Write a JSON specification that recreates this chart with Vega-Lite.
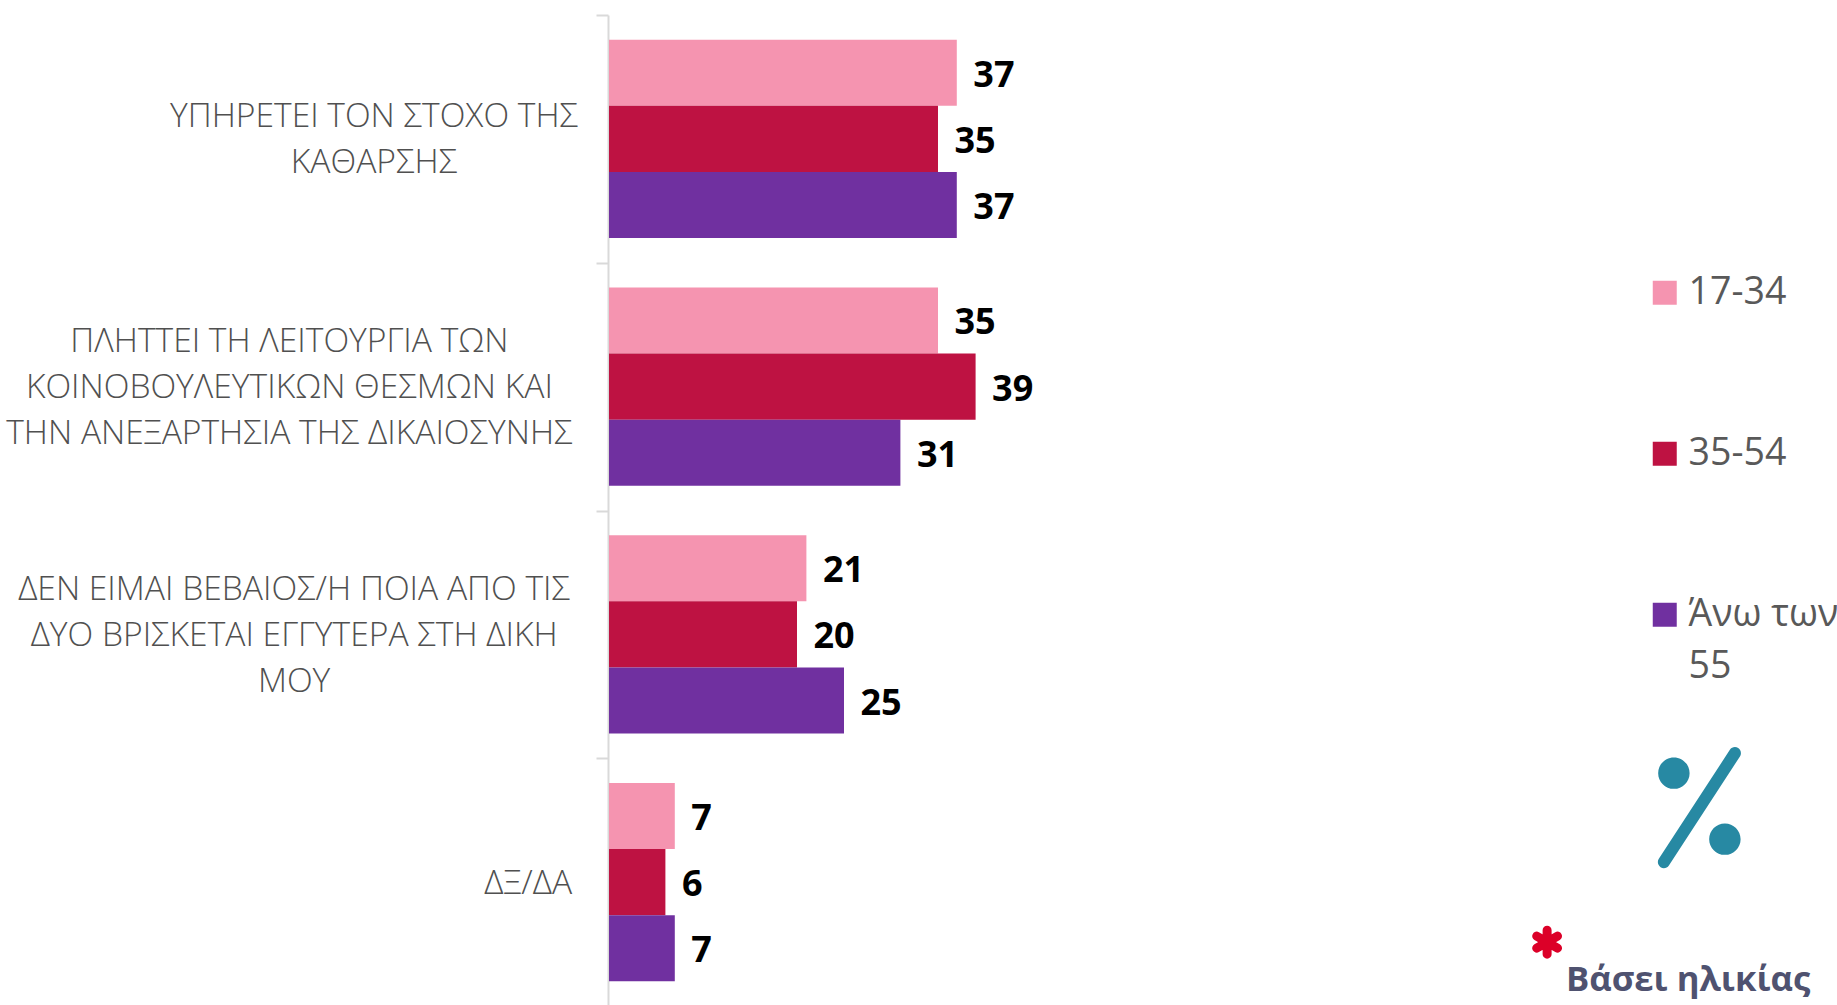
{
 "$schema":"https://vega.github.io/schema/vega-lite/v6.json",
 "autosize":{"type":"none"},
 "padding":{"left":609,"top":15,"right":0,"bottom":0},
 "width":1228,"height":991,
 "background":"white",
 "config":{"view":{"stroke":null},"font":"Open Sans"},
 "datasets":{"bars":[
  {"category":"ΥΠΗΡΕΤΕΙ ΤΟΝ ΣΤΟΧΟ ΤΗΣ ΚΑΘΑΡΣΗΣ","age":"17-34","value":37},
  {"category":"ΥΠΗΡΕΤΕΙ ΤΟΝ ΣΤΟΧΟ ΤΗΣ ΚΑΘΑΡΣΗΣ","age":"35-54","value":35},
  {"category":"ΥΠΗΡΕΤΕΙ ΤΟΝ ΣΤΟΧΟ ΤΗΣ ΚΑΘΑΡΣΗΣ","age":"Άνω των 55","value":37},
  {"category":"ΠΛΗΤΤΕΙ ΤΗ ΛΕΙΤΟΥΡΓΙΑ ΤΩΝ ΚΟΙΝΟΒΟΥΛΕΥΤΙΚΩΝ ΘΕΣΜΩΝ ΚΑΙ ΤΗΝ ΑΝΕΞΑΡΤΗΣΙΑ ΤΗΣ ΔΙΚΑΙΟΣΥΝΗΣ","age":"17-34","value":35},
  {"category":"ΠΛΗΤΤΕΙ ΤΗ ΛΕΙΤΟΥΡΓΙΑ ΤΩΝ ΚΟΙΝΟΒΟΥΛΕΥΤΙΚΩΝ ΘΕΣΜΩΝ ΚΑΙ ΤΗΝ ΑΝΕΞΑΡΤΗΣΙΑ ΤΗΣ ΔΙΚΑΙΟΣΥΝΗΣ","age":"35-54","value":39},
  {"category":"ΠΛΗΤΤΕΙ ΤΗ ΛΕΙΤΟΥΡΓΙΑ ΤΩΝ ΚΟΙΝΟΒΟΥΛΕΥΤΙΚΩΝ ΘΕΣΜΩΝ ΚΑΙ ΤΗΝ ΑΝΕΞΑΡΤΗΣΙΑ ΤΗΣ ΔΙΚΑΙΟΣΥΝΗΣ","age":"Άνω των 55","value":31},
  {"category":"ΔΕΝ ΕΙΜΑΙ ΒΕΒΑΙΟΣ/Η ΠΟΙΑ ΑΠΟ ΤΙΣ ΔΥΟ ΒΡΙΣΚΕΤΑΙ ΕΓΓΥΤΕΡΑ ΣΤΗ ΔΙΚΗ ΜΟΥ","age":"17-34","value":21},
  {"category":"ΔΕΝ ΕΙΜΑΙ ΒΕΒΑΙΟΣ/Η ΠΟΙΑ ΑΠΟ ΤΙΣ ΔΥΟ ΒΡΙΣΚΕΤΑΙ ΕΓΓΥΤΕΡΑ ΣΤΗ ΔΙΚΗ ΜΟΥ","age":"35-54","value":20},
  {"category":"ΔΕΝ ΕΙΜΑΙ ΒΕΒΑΙΟΣ/Η ΠΟΙΑ ΑΠΟ ΤΙΣ ΔΥΟ ΒΡΙΣΚΕΤΑΙ ΕΓΓΥΤΕΡΑ ΣΤΗ ΔΙΚΗ ΜΟΥ","age":"Άνω των 55","value":25},
  {"category":"ΔΞ/ΔΑ","age":"17-34","value":7},
  {"category":"ΔΞ/ΔΑ","age":"35-54","value":6},
  {"category":"ΔΞ/ΔΑ","age":"Άνω των 55","value":7}
 ]},
 "data":{"name":"bars"},
 "encoding":{
  "y":{"field":"category","type":"nominal","title":null,
   "scale":{"domain":["ΥΠΗΡΕΤΕΙ ΤΟΝ ΣΤΟΧΟ ΤΗΣ ΚΑΘΑΡΣΗΣ","ΠΛΗΤΤΕΙ ΤΗ ΛΕΙΤΟΥΡΓΙΑ ΤΩΝ ΚΟΙΝΟΒΟΥΛΕΥΤΙΚΩΝ ΘΕΣΜΩΝ ΚΑΙ ΤΗΝ ΑΝΕΞΑΡΤΗΣΙΑ ΤΗΣ ΔΙΚΑΙΟΣΥΝΗΣ","ΔΕΝ ΕΙΜΑΙ ΒΕΒΑΙΟΣ/Η ΠΟΙΑ ΑΠΟ ΤΙΣ ΔΥΟ ΒΡΙΣΚΕΤΑΙ ΕΓΓΥΤΕΡΑ ΣΤΗ ΔΙΚΗ ΜΟΥ","ΔΞ/ΔΑ"],"paddingInner":0,"paddingOuter":0},
   "axis":{"labels":false,"grid":false,"offset":1,"tickBand":"extent","tickSize":12,"tickWidth":2,"tickColor":"#d9d9d9","domainColor":"#d9d9d9","domainWidth":2}},
  "x":{"type":"quantitative","scale":{"domain":[0,130.64],"nice":false},"axis":null}
 },
 "layer":[
  {"mark":{"type":"bar","stroke":null,"cornerRadius":0},
   "encoding":{
    "x":{"field":"value","type":"quantitative"},
    "yOffset":{"field":"age","type":"nominal","sort":null,"scale":{"paddingInner":0,"paddingOuter":0.373}},
    "color":{"field":"age","type":"nominal","sort":null,
     "scale":{"domain":["17-34","35-54","Άνω των 55"],"range":["#F594B0","#BE1242","#7030A0"]},
     "legend":{"orient":"none","legendX":1037,"legendY":259,"title":null,"symbolType":"square","symbolSize":576,"symbolStrokeWidth":0,"symbolOpacity":1,
      "labelFont":"Open Sans","labelFontSize":37.5,"labelColor":"#595959","labelOffset":5,"labelLimit":300,"rowPadding":122,
      "labelExpr":"datum.label == 'Άνω των 55' ? ['Άνω των','55'] : datum.label",
      "encoding":{"labels":{"lineHeight":{"value":52}}}}}
   }},
  {"mark":{"type":"text","align":"left","baseline":"middle","dx":16.5,"dy":3,"font":"Open Sans","fontWeight":"bold","fontSize":36,"color":"#000000"},
   "encoding":{
    "x":{"field":"value","type":"quantitative"},
    "yOffset":{"field":"age","type":"nominal","sort":null,"scale":{"paddingInner":0,"paddingOuter":0.373}},
    "text":{"field":"value","type":"quantitative"}
   }},
  {"data":{"values":[{"category":"ΥΠΗΡΕΤΕΙ ΤΟΝ ΣΤΟΧΟ ΤΗΣ ΚΑΘΑΡΣΗΣ","lines":"ΥΠΗΡΕΤΕΙ ΤΟΝ ΣΤΟΧΟ ΤΗΣ|ΚΑΘΑΡΣΗΣ"}]},
   "mark":{"type":"text","align":"center","baseline":"middle","lineBreak":"|","lineHeight":46,"dy":-22,"font":"Open Sans","fontWeight":300,"fontSize":33.6,"color":"#505050"},
   "encoding":{"x":{"datum":-25},"text":{"field":"lines"}}},
  {"data":{"values":[{"category":"ΠΛΗΤΤΕΙ ΤΗ ΛΕΙΤΟΥΡΓΙΑ ΤΩΝ ΚΟΙΝΟΒΟΥΛΕΥΤΙΚΩΝ ΘΕΣΜΩΝ ΚΑΙ ΤΗΝ ΑΝΕΞΑΡΤΗΣΙΑ ΤΗΣ ΔΙΚΑΙΟΣΥΝΗΣ","lines":"ΠΛΗΤΤΕΙ ΤΗ ΛΕΙΤΟΥΡΓΙΑ ΤΩΝ|ΚΟΙΝΟΒΟΥΛΕΥΤΙΚΩΝ ΘΕΣΜΩΝ ΚΑΙ|ΤΗΝ ΑΝΕΞΑΡΤΗΣΙΑ ΤΗΣ ΔΙΚΑΙΟΣΥΝΗΣ"}]},
   "mark":{"type":"text","align":"center","baseline":"middle","lineBreak":"|","lineHeight":46,"dy":-45,"font":"Open Sans","fontWeight":300,"fontSize":33.6,"color":"#505050"},
   "encoding":{"x":{"datum":-34},"text":{"field":"lines"}}},
  {"data":{"values":[{"category":"ΔΕΝ ΕΙΜΑΙ ΒΕΒΑΙΟΣ/Η ΠΟΙΑ ΑΠΟ ΤΙΣ ΔΥΟ ΒΡΙΣΚΕΤΑΙ ΕΓΓΥΤΕΡΑ ΣΤΗ ΔΙΚΗ ΜΟΥ","lines":"ΔΕΝ ΕΙΜΑΙ ΒΕΒΑΙΟΣ/Η ΠΟΙΑ ΑΠΟ ΤΙΣ|ΔΥΟ ΒΡΙΣΚΕΤΑΙ ΕΓΓΥΤΕΡΑ ΣΤΗ ΔΙΚΗ|ΜΟΥ"}]},
   "mark":{"type":"text","align":"center","baseline":"middle","lineBreak":"|","lineHeight":46,"dy":-44,"font":"Open Sans","fontWeight":300,"fontSize":33.6,"color":"#505050"},
   "encoding":{"x":{"datum":-33.5},"text":{"field":"lines"}}},
  {"data":{"values":[{"category":"ΔΞ/ΔΑ","lines":"ΔΞ/ΔΑ"}]},
   "mark":{"type":"text","align":"center","baseline":"middle","dy":2,"font":"Open Sans","fontWeight":300,"fontSize":33.6,"color":"#505050"},
   "encoding":{"x":{"datum":-8.6},"text":{"field":"lines"}}},
  {"data":{"values":[{"category":"ΔΞ/ΔΑ","label":"Βάσει ηλικίας"}]},
   "mark":{"type":"text","align":"center","baseline":"middle","dy":99,"font":"Open Sans","fontWeight":"bold","fontSize":34.7,"color":"#4F5270"},
   "encoding":{"x":{"datum":114.8},"text":{"field":"label"}}},
  {"data":{"values":[{"category":"ΔΞ/ΔΑ","icon":"percent"}]},
   "mark":{"type":"point","filled":true,"opacity":1,"color":"#2789A3","size":14400,"yOffset":-74.5,
    "shape":"M0.676,-0.853 L-0.508,0.963 A0.1,0.1 0 0 1 -0.676,0.853 L0.508,-0.963 A0.1,0.1 0 0 1 0.676,-0.853 Z M-0.687,-0.575 a0.262,0.262 0 1 0 0.524,0 a0.262,0.262 0 1 0 -0.524,0 Z M0.163,0.525 a0.262,0.262 0 1 0 0.524,0 a0.262,0.262 0 1 0 -0.524,0 Z"},
   "encoding":{"x":{"datum":116}}},
  {"data":{"values":[{"category":"ΔΞ/ΔΑ","icon":"asterisk"}]},
   "mark":{"type":"point","filled":false,"opacity":1,"color":"#DC0028","strokeWidth":9,"strokeCap":"round","size":576,"yOffset":60,
    "shape":"M0,-1 L0,1 M-0.87,-0.5 L0.87,0.5 M-0.87,0.5 L0.87,-0.5"},
   "encoding":{"x":{"datum":99.8}}}
 ]
}
